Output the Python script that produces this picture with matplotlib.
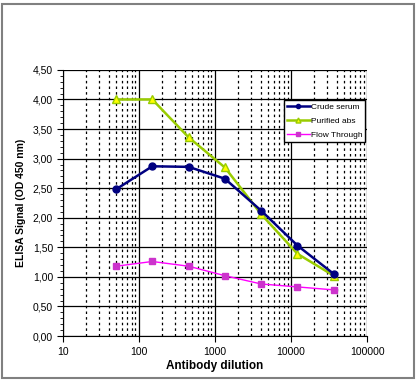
import matplotlib
matplotlib.use("Agg")
import matplotlib.pyplot as plt
from matplotlib.patches import Rectangle
from matplotlib.ticker import LogLocator, FixedLocator, MultipleLocator, FuncFormatter, NullFormatter

plt.rcParams["font.family"] = ["Liberation Sans", "DejaVu Sans"]

dilution = [50, 150, 450, 1350, 4050, 12150, 36450]
crude_serum = [2.48, 2.87, 2.86, 2.66, 2.12, 1.53, 1.05]
purified_abs = [4.00, 4.00, 3.36, 2.85, 2.06, 1.39, 1.02]
flow_through = [1.18, 1.26, 1.18, 1.02, 0.88, 0.83, 0.78]

fig = plt.figure(figsize=(4.19, 3.84), dpi=100)
fig.patches.append(Rectangle((0.005, 0.015), 0.982, 0.975, transform=fig.transFigure,
                             fill=False, edgecolor="#808080", linewidth=1.5))
ax = fig.add_axes([0.150, 0.125, 0.726, 0.693])

ax.plot(dilution, crude_serum, color="#000080", lw=1.8, marker="o", ms=5,
        mfc="#000080", mec="#000080", label="Crude serum", zorder=5)
ax.plot(dilution, purified_abs, color="#99CC00", lw=1.8, marker="^", ms=6,
        mfc="#FFFF00", mec="#99CC00", label="Purified abs", zorder=4)
ax.plot(dilution, flow_through, color="#FF00FF", lw=1.0, marker="s", ms=4.5,
        mfc="#CC33CC", mec="#CC33CC", label="Flow Through", zorder=3)

ax.set_xscale("log")
ax.set_xlim(10, 100000)
ax.set_ylim(0, 4.5)
ax.xaxis.set_major_locator(FixedLocator([10, 100, 1000, 10000, 100000]))
ax.xaxis.set_major_formatter(FuncFormatter(lambda v, p: f"{int(round(v))}"))
ax.xaxis.set_minor_locator(LogLocator(base=10, subs=range(2, 10), numticks=20))
ax.xaxis.set_minor_formatter(NullFormatter())
ax.yaxis.set_major_locator(MultipleLocator(0.5))
ax.yaxis.set_minor_locator(MultipleLocator(0.1))
ax.yaxis.set_major_formatter(FuncFormatter(lambda v, p: f"{v:.2f}".replace(".", ",")))

ax.grid(which="major", axis="both", color="black", lw=0.9, ls="-")
ax.grid(which="minor", axis="x", color="black", lw=0.9, ls=(0, (2, 2.5)))
ax.set_axisbelow(True)

ax.tick_params(axis="both", which="major", labelsize=7.5, length=4, direction="out", pad=3)
ax.tick_params(axis="y", which="minor", length=2.5, direction="out")
ax.tick_params(axis="x", which="minor", length=0)
ax.tick_params(axis="x", which="major", pad=4)

for side in ["top", "right"]:
    ax.spines[side].set_visible(False)

ax.set_xlabel("Antibody dilution", fontsize=8.5, fontweight="bold", labelpad=2)
ax.set_ylabel("ELISA Signal (OD 450 nm)", fontsize=7.5, fontweight="bold", labelpad=5)

leg = ax.legend(loc="upper left", bbox_to_anchor=(0.726, 0.885), fontsize=6.0,
                frameon=True, fancybox=False, edgecolor="black", framealpha=1,
                handlelength=2.8, handletextpad=0.1, borderpad=0.35,
                labelspacing=0.75, borderaxespad=0, markerscale=0.6)
leg.get_frame().set_linewidth(1.0)

fig.savefig("out.png", dpi=100)
